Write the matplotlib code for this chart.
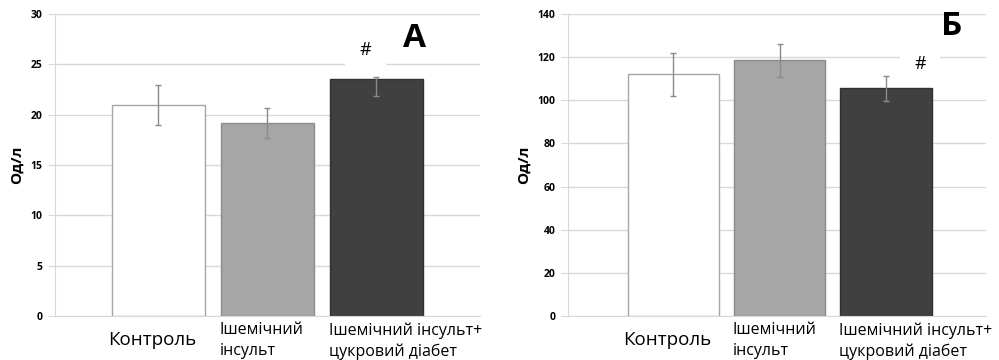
import numpy as np
import matplotlib.pyplot as plt
from matplotlib.transforms import blended_transform_factory

plt.rcParams['font.family'] = ['Open Sans', 'DejaVu Sans']

# дані
groups = ['Контроль', 'Ішемічний\nінсульт', 'Ішемічний інсульт+\nцукровий діабет']
vals_a = [21.0, 19.2, 23.5]
err_a_lo = [2.0, 1.5, 1.6]
err_a_hi = [2.0, 1.5, 0.2]
vals_b = [112.0, 118.5, 105.5]
err_b = [10.0, 7.7, 6.0]
colors = ['#ffffff', '#a6a6a6', '#404040']
edges = ['#a6a6a6', '#8c8c8c', '#303030']

fig = plt.figure(figsize=(9.99, 3.6), dpi=100)
ax1 = fig.add_axes([0.055, 0.122, 0.4255, 0.839])
ax2 = fig.add_axes([0.5686, 0.122, 0.4184, 0.839])

x = np.arange(len(groups))
w = 0.86


def draw(ax, vals, yerr, ymax, step, letter, letter_y, hash_y, xlim):
    ax.bar(x, vals, w, color=colors, edgecolor=edges, linewidth=1, zorder=2)
    ax.errorbar(x, vals, yerr=yerr, fmt='none', ecolor='#8a8a8a', elinewidth=1,
                capsize=2, capthick=1, zorder=3)
    ax.set_xlim(*xlim)
    ax.set_ylim(0, ymax)
    ax.set_yticks(np.arange(0, ymax + 1, step))
    ax.yaxis.grid(True, color='#d9d9d9', linewidth=1, zorder=0)
    ax.set_axisbelow(True)
    for s in ['top', 'right']:
        ax.spines[s].set_visible(False)
    ax.spines['left'].set_color('#d9d9d9')
    ax.spines['bottom'].set_color('#d9d9d9')
    ax.tick_params(axis='y', length=5, color='#d9d9d9', labelsize=7.5, pad=4)
    for t in ax.get_yticklabels():
        t.set_fontweight('bold')
    ax.set_xticks([])
    ax.set_ylabel('Од/л', fontsize=11, fontweight='bold', labelpad=5)
    tr = blended_transform_factory(ax.transData, ax.transAxes)
    ax.text(x[0] - 0.06, -0.08, groups[0], transform=tr, ha='center', va='center',
            fontsize=13.5)
    for i in (1, 2):
        ax.text(x[i] - w / 2 - 0.01, -0.02, groups[i], transform=tr, ha='left', va='top',
                fontsize=11.5, linespacing=1.4, clip_on=False)
    ax.text(letter[1], letter_y, letter[0], fontsize=24, fontweight='bold',
            ha='center', va='center')
    ax.text(hash_y[0], hash_y[1], '#', fontsize=13, ha='center', va='center',
            bbox=dict(facecolor='white', edgecolor='none', boxstyle='square,pad=0.8'))


draw(ax1, vals_a, [err_a_lo, err_a_hi], 30, 5, ('A', 2.35), 27.6, (1.9, 26.4), (-0.95, 2.95))
draw(ax2, vals_b, err_b, 140, 20, ('Б', 2.62), 134.0, (2.32, 117.0), (-0.99, 2.94))

fig.savefig('out.png', dpi=100)
